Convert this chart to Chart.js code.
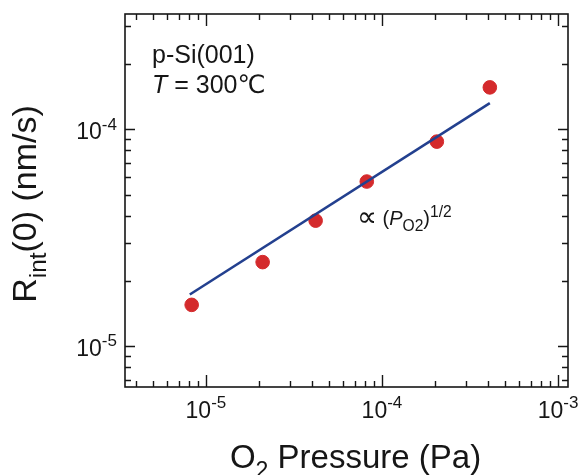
<!DOCTYPE html>
<html><head><meta charset="utf-8">
<script src="https://cdn.jsdelivr.net/npm/chart.js@4/dist/chart.umd.min.js"></script>
<style>html,body{margin:0;padding:0;background:#fff}#wrap{width:586px;height:475px;position:relative}</style>
</head><body><div id="wrap"><canvas id="c" width="586" height="475"></canvas></div>
<script>
// ---- data ----
const pressure = [8.3e-6, 2.1e-5, 4.2e-5, 8.2e-5, 2.05e-4, 4.1e-4];   // O2 pressure (Pa)
const rate     = [1.55e-5, 2.44e-5, 3.79e-5, 5.74e-5, 8.77e-5, 1.56e-4]; // Rint(0) (nm/s)
const fitPressure = [8.1e-6, 4.1e-4];
const fitRate     = [1.73e-5, 1.32e-4];
const xTickExps = [-5, -4, -3];
const yTickExps = [-5, -4];
const xRange = [3.47e-6, 1.14e-3];
const yRange = [6.48e-6, 3.4e-4];
const xTitle = [{t:'O'}, {t:'2', sub:true}, {t:' Pressure (Pa)'}];
const yTitle = [{t:'R'}, {t:'int', sub:true}, {t:'(0) (nm/s)'}];
const note1 = 'p-Si(001)';
const note2 = [{t:'T', it:true}, {t:' = 300℃'}];
const fitNote = [{t:'∝', big:true}, {t:' ('}, {t:'P', it:true}, {t:'O2', sub:true}, {t:')'}, {t:'1/2', sup:true}];

const FONT = "'Liberation Sans', Arial, 'DejaVu Sans', 'Noto Sans CJK JP', sans-serif";
const SYM = "'DejaVu Sans', sans-serif";
const INK = '#161616';

function fontStr(size, it, sym){ return (it ? 'italic ' : '') + size + 'px ' + (sym ? SYM : FONT); }

// draw a run of text pieces with sub/superscripts; returns width
function runs(ctx, parts, size, x, y, align, draw, ratio){
  const r = ratio || 0.7;
  let w = 0;
  const items = parts.map(p => {
    const s = (p.sub || p.sup) ? size * r : (p.big ? size * 1.4 : size);
    ctx.font = fontStr(s, p.it, p.big);
    const pw = ctx.measureText(p.t).width;
    const it = {p, s, pw};
    w += pw;
    return it;
  });
  if (!draw) return w;
  let cx = align === 'center' ? x - w / 2 : align === 'right' ? x - w : x;
  items.forEach(it => {
    ctx.font = fontStr(it.s, it.p.it, it.p.big);
    let dy = 0;
    if (it.p.sub) dy = size * 0.3;
    if (it.p.sup) dy = -size * 0.42;
    if (it.p.big) dy = size * 0.05;
    ctx.textAlign = 'left';
    ctx.fillText(it.p.t, cx, y + dy);
    cx += it.pw;
  });
  return w;
}

function powLabel(e){ return [{t:'10'}, {t:'-' + Math.abs(e), sup:true}]; }

const framePlugin = {
  id: 'frame',
  afterDatasetsDraw(chart){
    const ctx = chart.ctx;
    const a = chart.chartArea;
    const xs = chart.scales.x, ys = chart.scales.y;
    ctx.save();
    ctx.strokeStyle = INK;
    ctx.fillStyle = INK;
    ctx.lineWidth = 1.6;
    ctx.strokeRect(a.left, a.top, a.right - a.left, a.bottom - a.top);
    ctx.lineWidth = 1.4;
    // x ticks (inward, bottom and top)
    for (let d = -6; d <= -3; d++) {
      for (let m = 1; m <= 9; m++) {
        const v = m * Math.pow(10, d);
        if (v < xRange[0] || v > xRange[1]) continue;
        const px = Math.round(xs.getPixelForValue(v)) + 0.5;
        const L = m === 1 ? 12 : 6;
        ctx.beginPath();
        ctx.moveTo(px, a.bottom); ctx.lineTo(px, a.bottom - L);
        ctx.moveTo(px, a.top); ctx.lineTo(px, a.top + L);
        ctx.stroke();
      }
    }
    for (let d = -6; d <= -3; d++) {
      for (let m = 1; m <= 9; m++) {
        const v = m * Math.pow(10, d);
        if (v < yRange[0] || v > yRange[1]) continue;
        const py = Math.round(ys.getPixelForValue(v)) + 0.5;
        const L = m === 1 ? 10 : 6;
        ctx.beginPath();
        ctx.moveTo(a.left, py); ctx.lineTo(a.left + L, py);
        ctx.moveTo(a.right, py); ctx.lineTo(a.right - L, py);
        ctx.stroke();
      }
    }
    // tick labels
    ctx.textBaseline = 'alphabetic';
    xTickExps.forEach(e => {
      const px = xs.getPixelForValue(Math.pow(10, e));
      runs(ctx, powLabel(e), 23, px, a.bottom + 31, 'center', true, 0.74);
    });
    yTickExps.forEach(e => {
      const py = ys.getPixelForValue(Math.pow(10, e));
      runs(ctx, powLabel(e), 23, a.left - 8, py + 10, 'right', true, 0.74);
    });
    // axis titles
    runs(ctx, xTitle, 33, (a.left + a.right) / 2 + 9, 468, 'center', true);
    ctx.save();
    ctx.translate(36, 204);
    ctx.rotate(-Math.PI / 2);
    runs(ctx, yTitle, 34, 0, 0, 'center', true, 0.72);
    ctx.restore();
    // annotations
    runs(ctx, [{t:note1}], 25, a.left + 27, 63, 'left', true);
    runs(ctx, note2, 25, a.left + 27, 93, 'left', true);
    runs(ctx, fitNote, 20, 357, 225, 'left', true, 0.78);
    ctx.restore();
  }
};

new Chart(document.getElementById('c'), {
  type: 'scatter',
  data: {
    datasets: [
      {
        label: 'fit',
        data: fitPressure.map((x, i) => ({x, y: fitRate[i]})),
        showLine: true,
        borderColor: '#23408f',
        borderWidth: 2.6,
        pointRadius: 0,
        fill: false
      },
      {
        label: 'data',
        data: pressure.map((x, i) => ({x, y: rate[i]})),
        backgroundColor: '#d42a2c',
        borderColor: '#d42a2c',
        pointRadius: 6.8,
        pointHoverRadius: 6.8
      }
    ]
  },
  options: {
    responsive: false,
    animation: false,
    devicePixelRatio: 1,
    layout: { padding: { left: 125, right: 18, top: 14, bottom: 88 } },
    plugins: { legend: { display: false }, tooltip: { enabled: false } },
    scales: {
      x: { type: 'logarithmic', min: xRange[0], max: xRange[1], display: false },
      y: { type: 'logarithmic', min: yRange[0], max: yRange[1], display: false }
    }
  },
  plugins: [framePlugin]
});
</script>
</body></html>
